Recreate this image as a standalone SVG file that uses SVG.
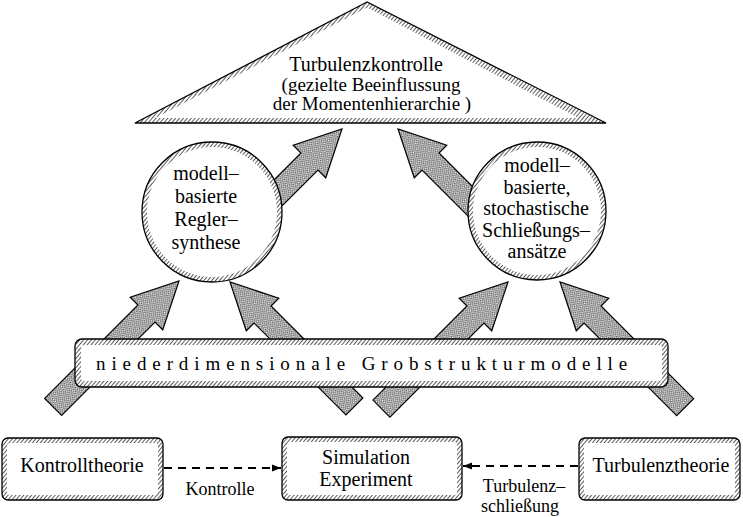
<svg xmlns="http://www.w3.org/2000/svg" width="743" height="517" viewBox="0 0 743 517">
<defs>
  <pattern id="hatch" width="3" height="10" patternUnits="userSpaceOnUse" patternTransform="rotate(40)">
    <rect width="3" height="10" fill="#fff"/>
    <line x1="0.5" y1="0" x2="0.5" y2="10" stroke="#333" stroke-width="0.8"/>
  </pattern>
  <pattern id="mesh" width="5" height="3.4" patternUnits="userSpaceOnUse">
    <rect width="5" height="3.4" fill="#fff"/>
    <path d="M0,0 L2.5,3.4 L5,0 M0,3.4 L2.5,0 L5,3.4" fill="none" stroke="#222" stroke-width="0.55"/>
  </pattern>
  <marker id="ah" viewBox="0 0 10 10" refX="10" refY="5" markerWidth="9" markerHeight="9" markerUnits="userSpaceOnUse" orient="auto">
    <path d="M0,1 L10,5 L0,9 Z" fill="#000"/>
  </marker>
  <style>
    .t20 { font-size: 20px; }
    .t19 { font-size: 19px; }
    .t18 { font-size: 18px; }
    .mid { text-anchor: middle; }
    .fat { fill: url(#mesh); stroke: #000; stroke-width: 1.2; stroke-linejoin: miter; }
    .hatch { fill: url(#hatch); stroke: none; }
    .inner { fill: #fff; stroke: none; }
    .outline { fill: none; stroke: #000; stroke-width: 1.3; }
    .dash { fill: none; stroke: #000; stroke-width: 1.8; stroke-dasharray: 8 6; }
  </style>
</defs>
<rect width="743" height="517" fill="#fff"/>
<g font-family="'Liberation Serif', 'Times New Roman', 'DejaVu Serif', serif" fill="#000">

<g id="connectors">
  <path class="fat" transform="translate(342,129) rotate(-45)" d="M-150,-12 L-46,-12 L-46,-23 L0,0 L-46,23 L-46,12 L-150,12 Z"/>
  <path class="fat" transform="translate(398,129) rotate(-135)" d="M-150,-12 L-46,-12 L-46,-23 L0,0 L-46,23 L-46,12 L-150,12 Z"/>
  <path class="fat" transform="translate(179,281) rotate(-45)" d="M-178,-12 L-46,-12 L-46,-23 L0,0 L-46,23 L-46,12 L-178,12 Z"/>
  <path class="fat" transform="translate(230,282) rotate(-135)" d="M-176,-12 L-46,-12 L-46,-23 L0,0 L-46,23 L-46,12 L-176,12 Z"/>
  <path class="fat" transform="translate(508,282) rotate(-45)" d="M-179,-12 L-46,-12 L-46,-23 L0,0 L-46,23 L-46,12 L-179,12 Z"/>
  <path class="fat" transform="translate(560,282) rotate(-135)" d="M-177,-12 L-46,-12 L-46,-23 L0,0 L-46,23 L-46,12 L-177,12 Z"/>
  <line class="dash" x1="164" y1="468" x2="281" y2="468" marker-end="url(#ah)"/>
  <line class="dash" x1="578" y1="466" x2="463" y2="466" marker-end="url(#ah)"/>
  <text class="t18 mid" x="220" y="495">Kontrolle</text>
  <text class="t18 mid" x="524" y="492">Turbulenz–</text>
  <text class="t18 mid" x="520" y="512">schließung</text>
</g>

<g id="triangle">
  <polygon class="hatch" points="367,2 135,123 606,123"/>
  <polygon class="inner" points="367,7.6 155.3,118 578.7,118"/>
  <polygon class="outline" points="367,2 135,123 606,123"/>
  <text class="t20 mid" x="366" y="71">Turbulenzkontrolle</text>
  <text class="t19 mid" x="371" y="91">(gezielte Beeinflussung</text>
  <text class="t19 mid" x="372" y="110">der Momentenhierarchie )</text>
</g>

<g id="circle-left">
  <circle class="hatch" cx="212" cy="212" r="70"/>
  <circle class="inner" cx="212" cy="212" r="65"/>
  <circle class="outline" cx="212" cy="212" r="70"/>
  <text class="t20 mid" x="206" y="180">modell–</text>
  <text class="t20 mid" x="206" y="203">basierte</text>
  <text class="t20 mid" x="206" y="226">Regler–</text>
  <text class="t20 mid" x="206" y="249">synthese</text>
</g>

<g id="circle-right">
  <circle class="hatch" cx="537" cy="211" r="69"/>
  <circle class="inner" cx="537" cy="211" r="64"/>
  <circle class="outline" cx="537" cy="211" r="69"/>
  <text class="t20 mid" x="537" y="172">modell–</text>
  <text class="t20 mid" x="537" y="194">basierte,</text>
  <text class="t20 mid" x="536" y="215">stochastische</text>
  <text class="t20 mid" x="536" y="237">Schließungs–</text>
  <text class="t20 mid" x="537" y="258">ansätze</text>
</g>

<g id="band">
  <rect class="hatch" x="75" y="339" width="593" height="48" rx="7"/>
  <rect class="inner" x="81" y="345" width="581" height="36" rx="3"/>
  <rect class="outline" x="75" y="339" width="593" height="48" rx="7"/>
  <text class="t19" x="96" y="370" letter-spacing="5.9">niederdimensionale Grobstrukturmodelle</text>
</g>

<g id="box-kontrolltheorie">
  <rect class="hatch" x="2" y="438" width="161" height="62" rx="6"/>
  <rect class="inner" x="7" y="443" width="151" height="52" rx="3"/>
  <rect class="outline" x="2" y="438" width="161" height="62" rx="6"/>
  <text class="t20 mid" x="82" y="472">Kontrolltheorie</text>
</g>

<g id="box-simulation">
  <rect class="hatch" x="282" y="437" width="180" height="63" rx="6"/>
  <rect class="inner" x="287" y="442" width="170" height="53" rx="3"/>
  <rect class="outline" x="282" y="437" width="180" height="63" rx="6"/>
  <text class="t20 mid" x="366" y="464">Simulation</text>
  <text class="t20 mid" x="366" y="486">Experiment</text>
</g>

<g id="box-turbulenztheorie">
  <rect class="hatch" x="579" y="438" width="161" height="62" rx="6"/>
  <rect class="inner" x="584" y="443" width="151" height="52" rx="3"/>
  <rect class="outline" x="579" y="438" width="161" height="62" rx="6"/>
  <text class="t20 mid" x="661" y="472">Turbulenztheorie</text>
</g>
</g>
</svg>
